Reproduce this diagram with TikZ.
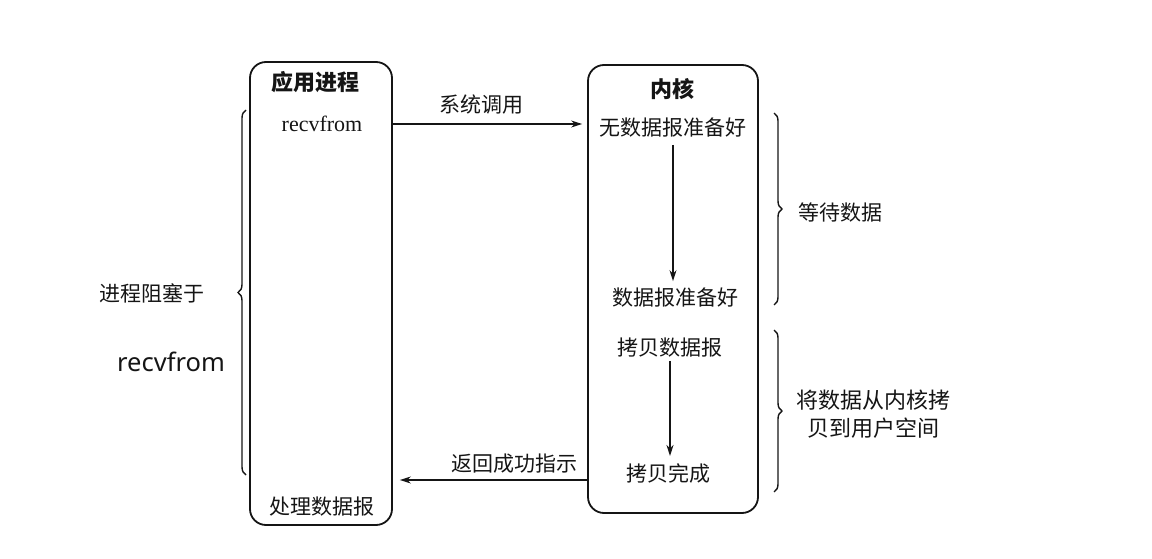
\documentclass[tikz,border=0pt]{standalone}
\usepackage{fontspec}
\usepackage{xcolor}
\usepackage{tikz}
\usetikzlibrary{positioning, arrows.meta, decorations.pathreplacing}
\setmainfont{Liberation Serif}
\newfontfamily\cjk{Noto Sans CJK SC}
\newfontfamily\latinsans{Noto Sans}
\definecolor{ink}{HTML}{151515}
\newcommand{\zhT}[1]{{\cjk\bfseries #1}}

\begin{document}
\begin{tikzpicture}[x=1pt, y=-1pt,
                    every node/.style={font=\cjk\fontsize{21}{26}\selectfont,
                                       text=ink, inner sep=0pt},
                    procbox/.style={draw=ink, line width=1.8pt, rounded corners=16pt},
                    arr/.style={-{Stealth[length=11pt, width=7pt]}, line width=1.4pt, draw=ink},
                    bracket/.style={decorate, decoration={brace, amplitude=8pt},
                                    line width=1.4pt, draw=ink}]
  \useasboundingbox (0,0) rectangle (1152,559);

  % the two columns
  \node[procbox, minimum width=142pt, minimum height=463pt] (app) at (321,293.5) {};
  \node[procbox, minimum width=170pt, minimum height=448pt] (kern) at (673,289) {};

  % application side
  \node[font=\cjk\fontsize{22}{26}\selectfont] (apptitle) at (315,82) {\zhT{应用进程}};
  \node[font=\rmfamily\fontsize{22}{26}\selectfont] (recv) at (322,124) {recvfrom};
  \node (handle) at (322,507) {处理数据报};

  % kernel side
  \node[font=\cjk\fontsize{22}{26}\selectfont] (kerntitle) at (672,89) {\zhT{内核}};
  \node (nodata) at (673,128) {无数据报准备好};
  \node (ready) at (675,298) {数据报准备好};
  \node (copy) at (670,348) {拷贝数据报};
  \node (done) at (668,473) {拷贝完成};

  % calls between them
  \draw[arr, shorten >=5pt] (app.east |- recv) -- (kern.west |- recv);
  \node (syscall) at (481,105) {系统调用};
  \draw[arr, shorten >=7pt] ([yshift=-7pt]kern.west |- done) -- ([yshift=-7pt]app.east |- done);
  \node (retok) at (514,464) {返回成功指示};

  \draw[arr] ([yshift=-7pt]nodata.south) -- ([yshift=7pt]nodata.south |- ready.north);
  \draw[arr] ([yshift=-3pt]copy.south) -- ([yshift=7pt]copy.south |- done.north);

  % braces and what they stand for
  \draw[bracket] (246,475) -- (246,110);
  \node (blocked) at (152,293) {进程阻塞于};
  \node[font=\latinsans\fontsize{25.5}{30}\selectfont] (recvleft) at (171,362) {recvfrom};

  \draw[bracket] (774,113) -- (774,305);
  \node (waitdata) at (840,212) {等待数据};
  \draw[bracket] (774,330) -- (774,492);
  \node[align=center, font=\cjk\fontsize{22}{28}\selectfont] (copyout) at (873,414)
    {将数据从内核拷\\贝到用户空间};
\end{tikzpicture}
\end{document}
